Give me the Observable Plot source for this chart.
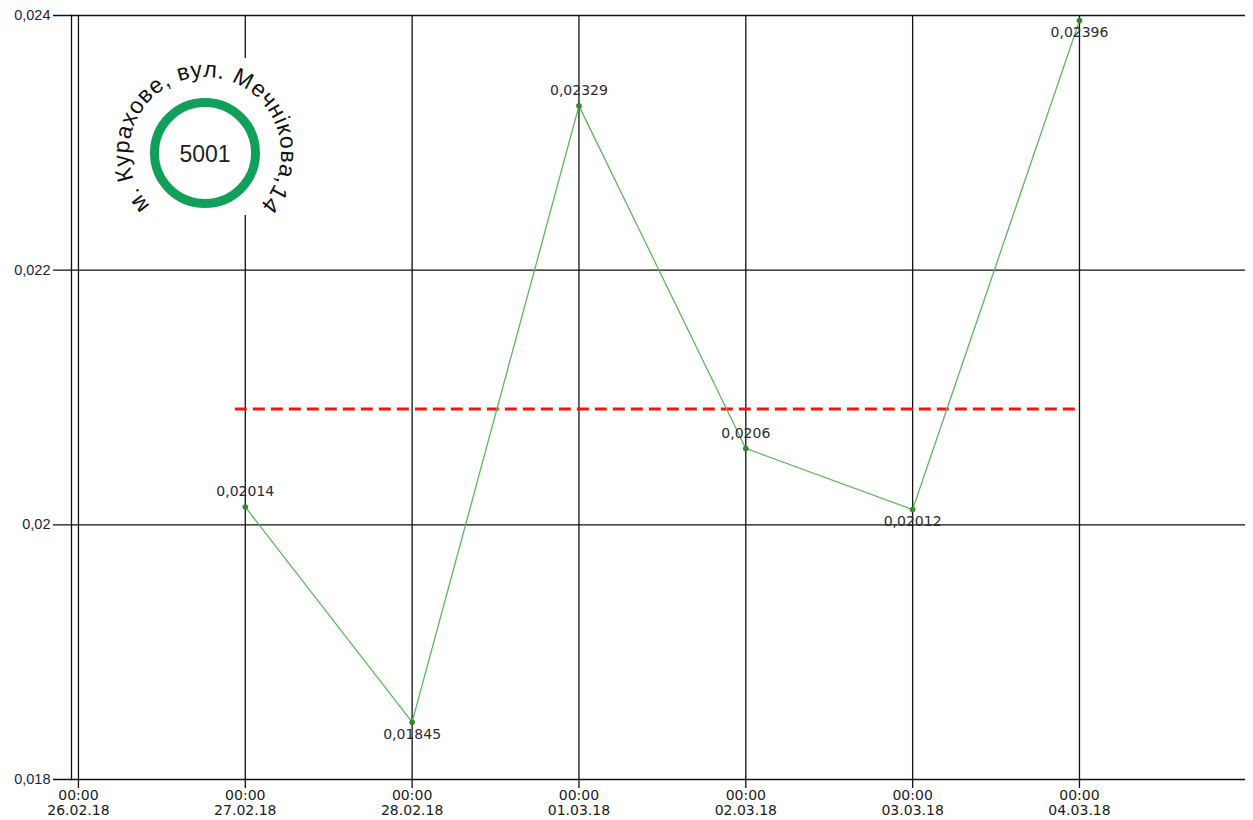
<!DOCTYPE html>
<html><head><meta charset="utf-8">
<script src="https://cdn.jsdelivr.net/npm/d3@7"></script>
<script src="https://cdn.jsdelivr.net/npm/@observablehq/plot@0.6"></script>
<style>body{margin:0;background:#fff}#chart{position:absolute;left:0;top:0}</style>
</head><body><div id="chart"></div>
<script>
const dates = ["2018-02-27","2018-02-28","2018-03-01","2018-03-02","2018-03-03","2018-03-04"];
const values = [0.02014, 0.01845, 0.02329, 0.0206, 0.02012, 0.02396];
const valueLabels = ["0,02014","0,01845","0,02329","0,0206","0,02012","0,02396"];
const labelSide = ["above","below","above","above","below","below"];
const tickDates = ["2018-02-26","2018-02-27","2018-02-28","2018-03-01","2018-03-02","2018-03-03","2018-03-04"];
const tickTimes = ["00:00","00:00","00:00","00:00","00:00","00:00","00:00"];
const tickDayLabels = ["26.02.18","27.02.18","28.02.18","01.03.18","02.03.18","03.03.18","04.03.18"];
const yTicks = [0.018, 0.02, 0.022, 0.024];
const yTickLabels = ["0,018","0,02","0,022","0,024"];
const limitValue = 0.02091;
const limitStart = "2018-02-26T22:34";
const limitEnd = "2018-03-04T00:00";
const stationName = "м. Курахове, вул. Мечнікова,14";
const stationId = "5001";

const P = s => new Date(s.length === 10 ? s + "T00:00:00Z" : s + ":00Z");
const data = dates.map((d, i) => ({date: P(d), value: values[i], label: valueLabels[i], side: labelSide[i]}));
const ticks = tickDates.map((d, i) => ({date: P(d), text: tickTimes[i] + "\n" + tickDayLabels[i]}));
const yt = yTicks.map((v, i) => ({v, text: yTickLabels[i]}));
const limit = [{x1: P(limitStart), x2: P(limitEnd), y: limitValue}];

const chart = Plot.plot({
  width: 1253, height: 820,
  marginLeft: 71, marginRight: 8, marginTop: 15, marginBottom: 41,
  style: {fontFamily: "DejaVu Sans, sans-serif", fontSize: "13px", background: "#fff", overflow: "visible"},
  x: {type: "utc", domain: [P("2018-02-25T23:00"), P("2018-03-04T23:53")], axis: null},
  y: {domain: [0.018, 0.024], axis: null},
  marks: [
    Plot.ruleY(yt, {y: "v", stroke: "#111", strokeWidth: 1.3, insetLeft: -18}),
    Plot.ruleX(ticks, {x: "date", stroke: "#111", strokeWidth: 1.3, insetBottom: -9}),
    Plot.frame({anchor: "left", stroke: "#111", strokeWidth: 1.3}),
    Plot.text(yt, {y: "v", text: "text", frameAnchor: "left", dx: -21, textAnchor: "end", fontSize: 14.5, fontFamily: "Liberation Sans, Arial, sans-serif", fill: "#1c2440"}),
    Plot.text(ticks, {x: "date", text: "text", frameAnchor: "bottom", dy: 10, lineAnchor: "top", lineHeight: 1.08, fontSize: 14, fill: "#1a1a1a"}),
    Plot.ruleY(limit, {x1: "x1", x2: "x2", y: "y", stroke: "#ff1010", strokeWidth: 3, strokeDasharray: "12,6"}),
    Plot.line(data, {x: "date", y: "value", stroke: "#5cb85c", strokeWidth: 1.3}),
    Plot.dot(data, {x: "date", y: "value", r: 2.8, fill: "#2e8b2e", stroke: "none"}),
    Plot.text(data.filter(d => d.side === "above"), {x: "date", y: "value", text: "label", dy: -15, fontSize: 14, fill: "#2a2a35"}),
    Plot.text(data.filter(d => d.side === "below"), {x: "date", y: "value", text: "label", dy: 12, fontSize: 14, fill: "#2a2a35"})
  ]
});
document.getElementById("chart").append(chart);

// station badge (decorative logo)
const svg = d3.select(chart);
const g = svg.append("g");
const cx = 205, cy = 153, r = 76;
g.append("rect").attr("x", 105).attr("y", 58).attr("width", 192).attr("height", 157).attr("fill", "#fff");
g.append("circle").attr("cx", cx).attr("cy", cy).attr("r", 50.5).attr("fill", "none").attr("stroke", "#11a05a").attr("stroke-width", 9);
g.append("text").attr("x", cx).attr("y", cy + 1).attr("text-anchor", "middle").attr("dominant-baseline", "central")
  .attr("font-family", "Liberation Sans, Arial, sans-serif").attr("font-size", 23).attr("fill", "#222").text(stationId);
const a0 = 110 * Math.PI / 180, a1 = 70 * Math.PI / 180;
const sx = cx + r * Math.cos(a0), sy = cy + r * Math.sin(a0);
const ex = cx + r * Math.cos(a1), ey = cy + r * Math.sin(a1);
svg.append("defs").append("path").attr("id", "arcPath").attr("d", `M${sx},${sy} A${r},${r} 0 1 1 ${ex},${ey}`);
g.append("text").attr("font-family", "Liberation Sans, Arial, sans-serif").attr("font-size", 23).attr("fill", "#111")
  .attr("letter-spacing", 0.8)
  .append("textPath").attr("href", "#arcPath").attr("startOffset", "50%").attr("text-anchor", "middle").text(stationName);
</script></body></html>
